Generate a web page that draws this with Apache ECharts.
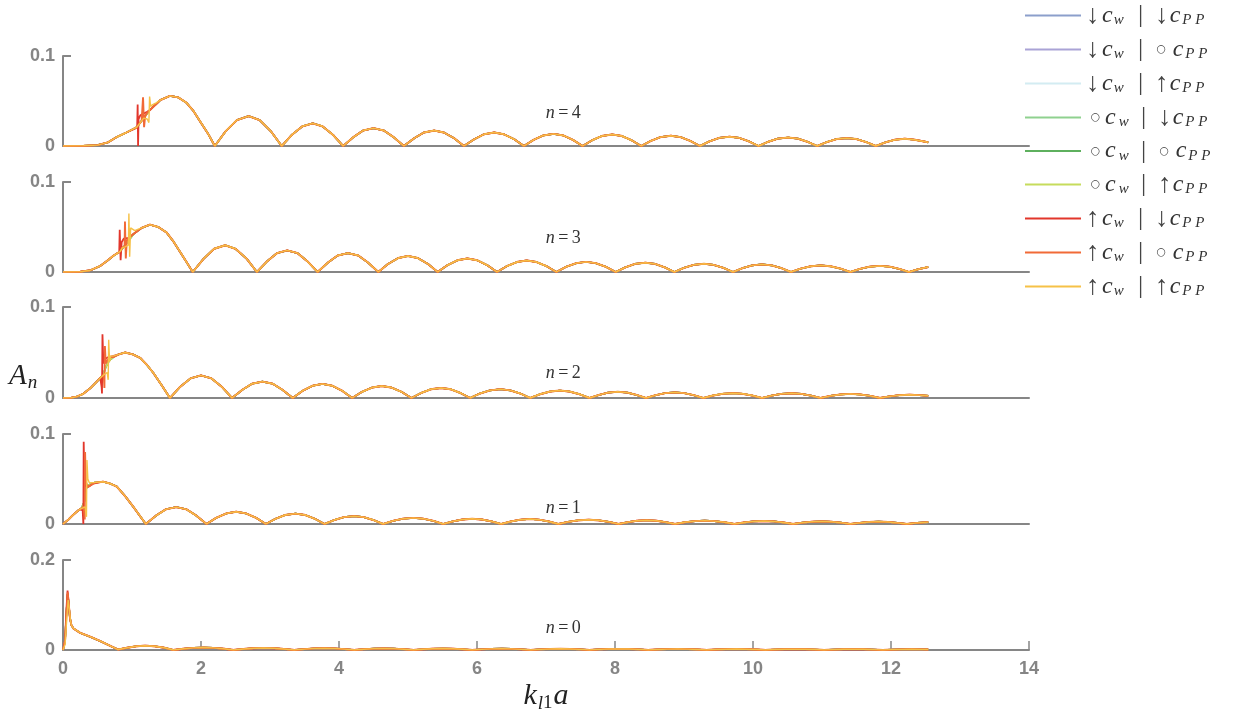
<!DOCTYPE html>
<html><head><meta charset="utf-8">
<script src="https://cdn.jsdelivr.net/npm/echarts@6/dist/echarts.min.js"></script>
<style>html,body{margin:0;padding:0;background:#fff}#c{width:1240px;height:713px}</style>
</head><body><div id="c"></div>
<script>
// ---------- DATA ----------
const panelN = [4, 3, 2, 1, 0];
const yMaxByPanel = [0.1, 0.1, 0.1, 0.1, 0.2];
const cwMarks  = ['↓','↓','↓','○','○','○','↑','↑','↑'];
const cppMarks = ['↓','○','↑','↓','○','↑','↓','○','↑'];
const seriesColors = ['#8c9fcb','#aaa3d6','#d3ecf2','#8fd18f','#5eb05e','#c6dc5c','#e2362b','#f16a37','#f6c147'];

const n4Base = [
[0,0],[0.3,0.0002],[0.5,0.001],[0.65,0.004],[0.78,0.010],[0.92,0.015],[1.07,0.021],[1.17,0.031],[1.26,0.040],[1.41,0.051],[1.55,0.0557],[1.67,0.054],[1.79,0.048],[1.89,0.039],[1.99,0.027],[2.10,0.014],[2.20,0],
[2.36,0.0166],[2.52,0.0288],[2.69,0.0332],[2.85,0.0288],[3.01,0.0166],[3.17,0],
[3.32,0.0126],[3.47,0.0219],[3.62,0.0252],[3.76,0.0219],[3.91,0.0126],[4.06,0],
[4.21,0.0099],[4.35,0.0172],[4.50,0.0198],[4.65,0.0172],[4.79,0.0099],[4.94,0],
[5.09,0.0086],[5.23,0.0150],[5.38,0.0172],[5.52,0.0150],[5.67,0.0086],[5.81,0],
[5.96,0.0075],[6.10,0.0130],[6.25,0.0150],[6.39,0.0130],[6.54,0.0075],[6.68,0],
[6.82,0.0068],[6.96,0.0117],[7.11,0.0135],[7.25,0.0117],[7.39,0.0068],[7.53,0],
[7.67,0.0064],[7.81,0.0111],[7.96,0.0128],[8.10,0.0111],[8.24,0.0064],[8.38,0],
[8.52,0.0057],[8.66,0.0099],[8.81,0.0114],[8.95,0.0099],[9.09,0.0057],[9.23,0],
[9.37,0.0052],[9.51,0.0090],[9.66,0.0103],[9.80,0.0090],[9.94,0.0052],[10.08,0],
[10.22,0.0047],[10.36,0.0082],[10.51,0.0094],[10.65,0.0082],[10.79,0.0047],[10.93,0],
[11.07,0.0044],[11.21,0.0077],[11.36,0.0088],[11.50,0.0077],[11.64,0.0044],[11.78,0],
[11.92,0.0041],[12.06,0.0070],[12.20,0.0081],[12.34,0.0070],[12.48,0.0050],[12.54,0.0040]
];
const n4Red    = [[1.05,0.0195],[1.075,0.022],[1.082,0.046],[1.088,0],[1.095,0.030],[1.12,0.034],[1.17,0.036],[1.22,0.038]];
const n4Orange = [[1.10,0.024],[1.14,0.028],[1.16,0.054],[1.175,0.021],[1.19,0.033],[1.22,0.037]];
const n4Yellow = [[1.18,0.032],[1.22,0.030],[1.245,0.026],[1.255,0.055],[1.27,0.044],[1.30,0.046],[1.35,0.048]];

const n3Base = [
[0,0],[0.25,0.0003],[0.4,0.002],[0.54,0.0067],[0.65,0.013],[0.73,0.018],[0.83,0.023],[0.92,0.032],[1.02,0.042],[1.14,0.049],[1.26,0.0526],[1.38,0.050],[1.50,0.044],[1.60,0.034],[1.70,0.022],[1.79,0.011],[1.88,0],
[2.04,0.0149],[2.19,0.0258],[2.35,0.0297],[2.50,0.0258],[2.66,0.0149],[2.81,0],
[2.96,0.0120],[3.10,0.0209],[3.25,0.0240],[3.40,0.0209],[3.54,0.0120],[3.69,0],
[3.84,0.0105],[3.98,0.0183],[4.13,0.0210],[4.28,0.0183],[4.42,0.0105],[4.57,0],
[4.71,0.0089],[4.86,0.0155],[5.00,0.0178],[5.14,0.0155],[5.29,0.0089],[5.43,0],
[5.57,0.0075],[5.72,0.0131],[5.86,0.0150],[6.00,0.0131],[6.15,0.0075],[6.29,0],
[6.43,0.0064],[6.58,0.0111],[6.72,0.0128],[6.86,0.0111],[7.01,0.0064],[7.15,0],
[7.29,0.0057],[7.44,0.0098],[7.58,0.0113],[7.72,0.0098],[7.87,0.0057],[8.01,0],
[8.15,0.0052],[8.29,0.0090],[8.44,0.0103],[8.58,0.0090],[8.72,0.0052],[8.86,0],
[9.00,0.0046],[9.14,0.0079],[9.29,0.0091],[9.43,0.0079],[9.57,0.0046],[9.71,0],
[9.85,0.0043],[9.99,0.0074],[10.13,0.0085],[10.27,0.0074],[10.41,0.0043],[10.55,0],
[10.69,0.0037],[10.84,0.0064],[10.98,0.0074],[11.12,0.0064],[11.27,0.0037],[11.41,0],
[11.55,0.0034],[11.69,0.0059],[11.84,0.0068],[11.98,0.0059],[12.12,0.0034],[12.26,0],
[12.40,0.0032],[12.54,0.0055]
];
const n3Red    = [[0.78,0.0205],[0.815,0.022],[0.822,0.047],[0.835,0.013],[0.85,0.033],[0.88,0.037],[0.95,0.038],[1.00,0.041]];
const n3Orange = [[0.86,0.027],[0.893,0.029],[0.898,0.056],[0.91,0.015],[0.925,0.035],[0.96,0.038],[1.00,0.041]];
const n3Yellow = [[0.86,0.027],[0.90,0.028],[0.948,0.030],[0.955,0.065],[0.966,0.017],[0.98,0.049],[1.04,0.046],[1.10,0.048]];

const n2Base = [
[0,0],[0.12,0.0003],[0.2,0.0015],[0.29,0.0044],[0.4,0.011],[0.49,0.018],[0.58,0.025],[0.62,0.034],[0.67,0.041],[0.73,0.045],[0.81,0.048],[0.90,0.050],[1.01,0.048],[1.12,0.044],[1.22,0.036],[1.31,0.0275],[1.43,0.014],[1.55,0],
[1.70,0.0124],[1.85,0.0216],[2.00,0.0248],[2.15,0.0216],[2.30,0.0124],[2.45,0],
[2.60,0.0090],[2.74,0.0157],[2.89,0.0180],[3.04,0.0157],[3.18,0.0090],[3.33,0],
[3.47,0.0078],[3.62,0.0135],[3.76,0.0155],[3.90,0.0135],[4.05,0.0078],[4.19,0],
[4.33,0.0066],[4.48,0.0115],[4.62,0.0132],[4.76,0.0115],[4.91,0.0066],[5.05,0],
[5.19,0.0055],[5.33,0.0096],[5.48,0.0110],[5.62,0.0096],[5.76,0.0055],[5.90,0],
[6.04,0.0049],[6.19,0.0084],[6.34,0.0097],[6.48,0.0084],[6.63,0.0049],[6.77,0],
[6.91,0.0041],[7.06,0.0071],[7.20,0.0082],[7.34,0.0071],[7.49,0.0041],[7.63,0],
[7.77,0.0034],[7.90,0.0059],[8.04,0.0068],[8.18,0.0059],[8.31,0.0034],[8.45,0],
[8.59,0.0031],[8.73,0.0054],[8.87,0.0062],[9.00,0.0054],[9.14,0.0031],[9.28,0],
[9.42,0.0027],[9.56,0.0046],[9.71,0.0053],[9.85,0.0046],[9.99,0.0027],[10.13,0],
[10.27,0.0026],[10.41,0.0045],[10.56,0.0052],[10.70,0.0045],[10.84,0.0026],[10.98,0],
[11.12,0.0023],[11.27,0.0039],[11.41,0.0045],[11.55,0.0039],[11.70,0.0023],[11.84,0],
[11.98,0.0018],[12.12,0.0031],[12.27,0.0036],[12.41,0.0032],[12.54,0.0024]
];
const n2Red    = [[0.54,0.022],[0.56,0.012],[0.565,0.005],[0.572,0.070],[0.585,0.038],[0.61,0.043],[0.66,0.045],[0.72,0.046]];
const n2Orange = [[0.54,0.022],[0.59,0.026],[0.60,0.011],[0.607,0.057],[0.62,0.038],[0.65,0.042],[0.70,0.045]];
const n2Yellow = [[0.54,0.022],[0.60,0.026],[0.64,0.028],[0.655,0.020],[0.662,0.064],[0.675,0.040],[0.69,0.046],[0.72,0.046]];

const n1Base = [
[0,0],[0.08,0.005],[0.15,0.0103],[0.22,0.015],[0.27,0.0177],[0.31,0.025],[0.34,0.040],[0.38,0.0435],[0.46,0.046],[0.58,0.047],[0.68,0.045],[0.78,0.0416],[0.90,0.031],[1.02,0.019],[1.11,0.0095],[1.20,0],
[1.35,0.0094],[1.49,0.0163],[1.64,0.0188],[1.79,0.0163],[1.93,0.0094],[2.08,0],
[2.22,0.0068],[2.37,0.0118],[2.51,0.0136],[2.65,0.0118],[2.80,0.0068],[2.94,0],
[3.08,0.0058],[3.22,0.0100],[3.37,0.0115],[3.51,0.0100],[3.65,0.0058],[3.79,0],
[3.93,0.0044],[4.07,0.0076],[4.22,0.0088],[4.36,0.0076],[4.50,0.0044],[4.64,0],
[4.78,0.0034],[4.93,0.0059],[5.08,0.0068],[5.22,0.0059],[5.37,0.0034],[5.51,0],
[5.65,0.0029],[5.79,0.0050],[5.93,0.0058],[6.07,0.0050],[6.21,0.0029],[6.35,0],
[6.49,0.0028],[6.63,0.0048],[6.77,0.0056],[6.90,0.0048],[7.04,0.0028],[7.18,0],
[7.32,0.0024],[7.47,0.0041],[7.62,0.0047],[7.76,0.0041],[7.91,0.0024],[8.05,0],
[8.19,0.0021],[8.32,0.0036],[8.46,0.0042],[8.60,0.0036],[8.73,0.0021],[8.87,0],
[9.01,0.0019],[9.16,0.0032],[9.30,0.0037],[9.44,0.0032],[9.59,0.0019],[9.73,0],
[9.87,0.0017],[10.01,0.0029],[10.16,0.0033],[10.30,0.0029],[10.44,0.0017],[10.58,0],
[10.72,0.0015],[10.86,0.0025],[11.00,0.0029],[11.13,0.0025],[11.27,0.0015],[11.41,0],
[11.55,0.0013],[11.68,0.0023],[11.82,0.0026],[11.96,0.0023],[12.09,0.0013],[12.23,0],
[12.38,0.0013],[12.54,0.0021]
];
const n1Red    = [[0.25,0.0165],[0.285,0.015],[0.295,0],[0.30,0.0915],[0.31,0.045],[0.34,0.041],[0.38,0.042],[0.44,0.045]];
const n1Orange = [[0.25,0.0165],[0.30,0.019],[0.315,0.005],[0.32,0.080],[0.33,0.047],[0.36,0.041],[0.42,0.044]];
const n1Yellow = [[0.25,0.0165],[0.32,0.019],[0.34,0.008],[0.347,0.071],[0.36,0.050],[0.38,0.046],[0.44,0.046]];

const n0Base = [
[0,0],[0.015,0.001],[0.03,0.02],[0.05,0.085],[0.068,0.125],[0.082,0.105],[0.10,0.072],[0.12,0.056],[0.15,0.048],[0.25,0.038],[0.4,0.029],[0.55,0.019],[0.7,0.008],[0.80,0.001],
[0.93,0.005],[1.06,0.0083],[1.19,0.0096],[1.33,0.0083],[1.47,0.005],[1.60,0],
[1.75,0.0028],[1.89,0.0048],[2.04,0.0055],[2.18,0.0048],[2.33,0.0028],[2.47,0],
[2.62,0.0023],[2.76,0.0039],[2.91,0.0045],[3.06,0.0039],[3.20,0.0023],[3.35,0],
[3.50,0.0020],[3.64,0.0035],[3.79,0.0040],[3.93,0.0035],[4.08,0.0020],[4.22,0],
[4.36,0.0018],[4.51,0.0030],[4.65,0.0035],[4.79,0.0030],[4.94,0.0018],[5.08,0],
[5.22,0.0016],[5.36,0.0028],[5.51,0.0032],[5.65,0.0028],[5.79,0.0016],[5.93,0],
[6.07,0.0015],[6.21,0.0026],[6.36,0.0030],[6.50,0.0026],[6.64,0.0015],[6.78,0],
[6.92,0.0014],[7.06,0.0023],[7.21,0.0027],[7.35,0.0023],[7.49,0.0014],[7.63,0],
[7.77,0.0013],[7.91,0.0022],[8.06,0.0025],[8.20,0.0022],[8.34,0.0013],[8.48,0],
[8.62,0.0012],[8.76,0.0020],[8.91,0.0023],[9.05,0.0020],[9.19,0.0012],[9.33,0],
[9.47,0.0011],[9.61,0.0018],[9.76,0.0021],[9.90,0.0018],[10.04,0.0011],[10.18,0],
[10.32,0.0010],[10.46,0.0017],[10.61,0.0020],[10.75,0.0017],[10.89,0.0010],[11.03,0],
[11.17,0.0009],[11.31,0.0016],[11.46,0.0018],[11.60,0.0016],[11.74,0.0009],[11.88,0],
[12.02,0.0008],[12.16,0.0014],[12.30,0.0016],[12.45,0.0014],[12.54,0.0011]
];
const n0Red    = [[0.03,0.022],[0.05,0.090],[0.066,0.132],[0.08,0.108],[0.10,0.072],[0.12,0.056]];
const n0Orange = [[0.03,0.020],[0.052,0.085],[0.068,0.128],[0.082,0.105],[0.10,0.072],[0.12,0.056]];
const n0Yellow = [[0.03,0.012],[0.055,0.070],[0.075,0.111],[0.09,0.093],[0.105,0.070],[0.12,0.056]];

// ---------- BUILD ----------
const panelBase = [n4Base, n3Base, n2Base, n1Base, n0Base];
const panelSpikes = [
  {6: n4Red, 7: n4Orange, 8: n4Yellow},
  {6: n3Red, 7: n3Orange, 8: n3Yellow},
  {6: n2Red, 7: n2Orange, 8: n2Yellow},
  {6: n1Red, 7: n1Orange, 8: n1Yellow},
  {6: n0Red, 7: n0Orange, 8: n0Yellow}
];
function withSpike(base, spike) {
  if (!spike) return base;
  const a = spike[0][0], b = spike[spike.length - 1][0];
  return base.filter(p => p[0] < a || p[0] > b).concat(spike).sort((u, v) => u[0] - v[0]);
}
const seriesNames = cwMarks.map((m, i) => m + 'c_w|' + cppMarks[i] + 'c_PP');
const seriesWidths = [1.6, 1.6, 1.6, 1.6, 1.6, 1.6, 1.8, 1.9, 1.4];

const gridTops = [56, 182, 307, 434, 560];
const gridHeights = [90, 90, 91, 90, 90];
const labelY = [0.0365, 0.037, 0.027, 0.017, 0.049];
const AX = '#868686';
const tickFont = {fontFamily: 'Liberation Sans, Arial, sans-serif', fontWeight: 'bold', fontSize: 18, color: '#858585'};
const serif = 'Liberation Serif, DejaVu Serif, serif';

const grids = [], xAxes = [], yAxes = [], series = [];
panelN.forEach((n, p) => {
  const last = p === panelN.length - 1;
  grids.push({left: 63, width: 966, top: gridTops[p], height: gridHeights[p], containLabel: false, outerBoundsMode: 'none'});
  xAxes.push({
    type: 'value', gridIndex: p, min: 0, max: 14, interval: 2,
    axisLine: {show: true, onZero: false, lineStyle: {color: AX, width: 2}},
    axisTick: {show: last, inside: true, length: 9, lineStyle: {color: AX, width: 1.5}},
    axisLabel: Object.assign({show: last, margin: 10}, tickFont),
    splitLine: {show: false},
    name: last ? '{m|k}{s|l}{t|1}{m|a}' : '',
    nameLocation: 'middle', nameGap: 30,
    nameTextStyle: {rich: {
      m: {fontFamily: serif, fontStyle: 'italic', fontSize: 30, color: '#222'},
      s: {fontFamily: serif, fontStyle: 'italic', fontSize: 19, color: '#222', padding: [14, 0, 0, 1]},
      t: {fontFamily: serif, fontSize: 19, color: '#222', padding: [14, 1, 0, 0]}
    }}
  });
  yAxes.push({
    type: 'value', gridIndex: p, min: 0, max: yMaxByPanel[p], interval: yMaxByPanel[p],
    axisLine: {show: true, lineStyle: {color: AX, width: 2}},
    axisTick: {show: true, inside: true, length: 8, lineStyle: {color: AX, width: 2}},
    axisLabel: Object.assign({margin: 8}, tickFont),
    splitLine: {show: false}
  });
  for (let s = 0; s < 9; s++) {
    const ser = {
      type: 'line', name: seriesNames[s], xAxisIndex: p, yAxisIndex: p,
      data: withSpike(panelBase[p], panelSpikes[p][s]),
      symbol: 'none', showSymbol: false, animation: false,
      lineStyle: {color: seriesColors[s], width: seriesWidths[s]},
      itemStyle: {color: seriesColors[s]}
    };
    if (s === 8) {
      ser.markPoint = {
        symbol: 'circle', symbolSize: 0, animation: false,
        data: [{coord: [7.25, labelY[p]], value: n}],
        label: {show: true, position: 'inside',
          formatter: '{i|n} {r|=} {r|' + n + '}',
          rich: {
            i: {fontFamily: serif, fontStyle: 'italic', fontSize: 18, color: '#333'},
            r: {fontFamily: serif, fontSize: 18, color: '#333'}
          }}
      };
    }
    series.push(ser);
  }
});

const legendRich = {
  ar: {fontFamily: serif, fontSize: 27, color: '#444', width: 16, align: 'left', lineHeight: 24},
  oc: {fontFamily: 'DejaVu Sans, sans-serif', fontSize: 11, color: '#444', width: 19, align: 'right', lineHeight: 24},
  c: {fontFamily: serif, fontStyle: 'italic', fontSize: 24, color: '#333', lineHeight: 24},
  sw: {fontFamily: serif, fontStyle: 'italic', fontSize: 15, color: '#333', padding: [10, 0, 0, 1], width: 14},
  sep: {fontFamily: serif, fontSize: 26, color: '#444', width: 26, align: 'center', lineHeight: 24},
  sp: {fontFamily: serif, fontStyle: 'italic', fontSize: 15, color: '#333', padding: [10, 0, 0, 2]}
};
function legendFmt(name) {
  const parts = name.split('|');
  const a = parts[0][0], b = parts[1][0];
  const t1 = a === '○' ? '{oc|○}' : '{ar|' + a + '}';
  const t2 = b === '○' ? '{oc|○ }' : '{ar|' + b + '}';
  return t1 + '{c|c}{sw|w}{sep||}' + t2 + '{c|c}{sp|P P}';
}

const option = {
  backgroundColor: '#fff',
  animation: false,
  grid: grids, xAxis: xAxes, yAxis: yAxes, series: series,
  legend: {
    orient: 'vertical', left: 1024, top: 2, padding: 0,
    itemWidth: 56, itemHeight: 14, itemGap: 7,
    data: seriesNames,
    formatter: legendFmt,
    itemStyle: {opacity: 0},
    lineStyle: {width: 2},
    textStyle: {rich: legendRich, color: '#333'},
    selectedMode: false
  },
  graphic: [{
    type: 'text', left: 9, top: 362,
    style: {
      text: '{m|A}{s|n}',
      rich: {
        m: {fontFamily: serif, fontStyle: 'italic', fontSize: 29, fill: '#222', color: '#222'},
        s: {fontFamily: serif, fontStyle: 'italic', fontSize: 19, fill: '#222', color: '#222', padding: [12, 0, 0, 1]}
      }
    }
  }]
};
const chart = echarts.init(document.getElementById('c'), null, {renderer: 'canvas'});
chart.setOption(option);
</script></body></html>
